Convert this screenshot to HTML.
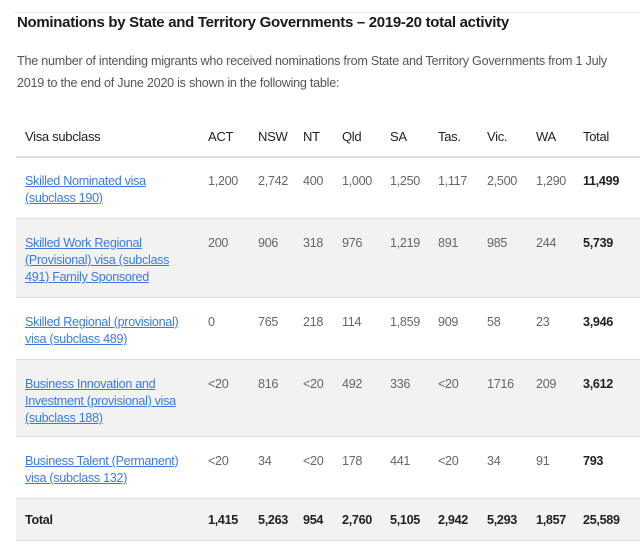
<!DOCTYPE html>
<html><head><meta charset="utf-8"><style>
body{margin:0;width:640px;height:544px;background:#fff;font-family:"Liberation Sans",sans-serif;position:relative;overflow:hidden}
.topline{position:absolute;left:14px;right:0;top:12px;height:1px;background:#eee}
h1{position:absolute;left:17px;top:14px;margin:0;font-size:15px;font-weight:bold;color:#1a1a1a;letter-spacing:-0.3px}
p{position:absolute;left:17px;top:50px;width:620px;margin:0;font-size:12.6px;line-height:22px;color:#555;letter-spacing:-0.25px}
.row{position:absolute;left:16px;right:0;border-bottom:1px solid #ddd}
.gray{background:#f2f2f2}
.c{position:absolute;top:16px;font-size:12.6px;line-height:17px;color:#666;letter-spacing:-0.3px;white-space:nowrap}
.h .c{color:#222;top:15px;font-size:13px}
.t .c{top:13px}
.b{font-weight:bold;color:#222}
a{color:#3a7be0;text-decoration:underline}
</style></head><body>
<div class="topline"></div>
<h1>Nominations by State and Territory Governments – 2019-20 total activity</h1>
<p>The number of intending migrants who received nominations from State and Territory Governments from 1 July 2019 to the end of June 2020 is shown in the following table:</p>
<div id="tbl"></div>
<script>
const cols=["Visa subclass","ACT","NSW","NT","Qld","SA","Tas.","Vic.","WA","Total"];
const colX=[9,192,242,287,326,374,422,471,520,567];
const rows=[
 ["Skilled Nominated visa<br>(subclass 190)","1,200","2,742","400","1,000","1,250","1,117","2,500","1,290","11,499"],
 ["Skilled Work Regional<br>(Provisional) visa (subclass<br>491) Family Sponsored","200","906","318","976","1,219","891","985","244","5,739"],
 ["Skilled Regional (provisional)<br>visa (subclass 489)","0","765","218","114","1,859","909","58","23","3,946"],
 ["Business Innovation and<br>Investment (provisional) visa<br>(subclass 188)","&lt;20","816","&lt;20","492","336","&lt;20","1716","209","3,612"],
 ["Business Talent (Permanent)<br>visa (subclass 132)","&lt;20","34","&lt;20","178","441","&lt;20","34","91","793"]
];
const totals=["Total","1,415","5,263","954","2,760","5,105","2,942","5,293","1,857","25,589"];
const tops=[113,157,219,298,360,437,499,541];
const tbl=document.getElementById('tbl');
function mk(i,cells,cls){
 const r=document.createElement('div');
 r.className='row '+cls;
 
 
 r.style.top=tops[i]+'px';r.style.height=(tops[i+1]-tops[i]-1)+'px';
 if(i===0)r.style.borderBottom='2px solid #ddd';
 cells.forEach((t,j)=>{
  const c=document.createElement('div');
  c.className='c'+((j===9||i===6)&&i!==0?' b':'');
  c.style.left=colX[j]+'px';
  
  
  c.innerHTML=(j===0&&i>0&&i<6)?'<a href="#">'+t+'</a>':t;
  r.appendChild(c);
 });
 tbl.appendChild(r);
}
mk(0,cols,'h');
rows.forEach((r,k)=>mk(k+1,r,k%2===1?'gray':''));
mk(6,totals,'gray t');
</script>
</body></html>
